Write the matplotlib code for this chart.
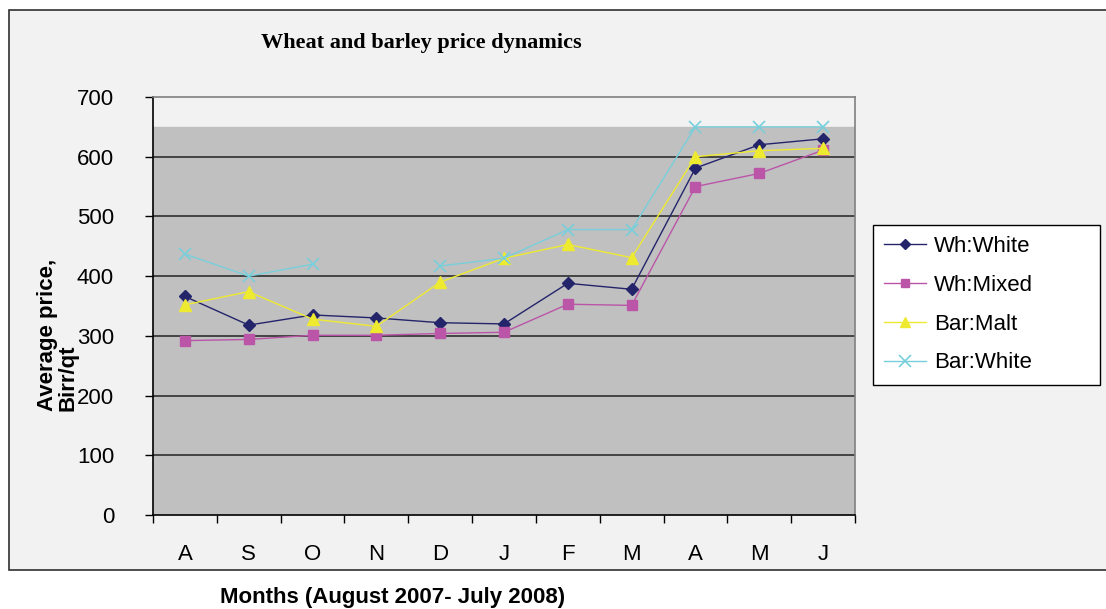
import numpy as np
import matplotlib
matplotlib.use("Agg")
import matplotlib.pyplot as plt
from matplotlib.patches import Rectangle

months = ["A", "S", "O", "N", "D", "J", "F", "M", "A", "M", "J"]
wh_white = [366, 318, 335, 330, 322, 320, 388, 378, 581, 620, 630]
wh_mixed = [292, 294, 301, 301, 304, 306, 353, 351, 550, 572, 611]
bar_malt = [352, 374, 328, 316, 390, 430, 453, 431, 600, 610, 614]
bar_white = [437, 400, 420, np.nan, 417, 430, 478, 478, 650, 650, 650]
yticks = [0, 100, 200, 300, 400, 500, 600, 700]

W, H = 1106, 609
fig = plt.figure(figsize=(W / 100, H / 100), dpi=100)
fig.patch.set_facecolor("white")

# outer chart area box
fig.patches.append(Rectangle((9 / W, 1 - 570 / H), 1.2, (570 - 10) / H,
                             transform=fig.transFigure, facecolor="#f2f2f2",
                             edgecolor="#303030", linewidth=1.2, zorder=-5))

ax = fig.add_axes([153 / W, 1 - 515 / H, (855 - 153) / W, (515 - 97) / H])
ax.set_facecolor("#f2f2f2")
ax.axhspan(0, 650, color="#c0c0c0", zorder=0)

x = np.arange(len(months))
for yv in yticks[1:-1]:
    ax.axhline(yv, color="#3a3a3a", linewidth=1.3, zorder=1)

series = [
    ("Wh:White", wh_white, "#24246b", "D", 6, 1.0),
    ("Wh:Mixed", wh_mixed, "#bb55a8", "s", 7, 1.0),
    ("Bar:Malt", bar_malt, "#eeea30", "^", 8, 1.0),
    ("Bar:White", bar_white, "#78cfdc", "x", 9, 1.2),
]
for name, vals, col, mk, ms, mew in series:
    ax.plot(x, vals, color=col, marker=mk, markersize=ms, markeredgewidth=mew,
            markerfacecolor=col, markeredgecolor=col, linewidth=1.0,
            label=name, zorder=3)

ax.set_xlim(-0.5, len(months) - 0.5)
ax.set_ylim(0, 700)
ax.set_yticks(yticks)
ax.set_yticklabels([str(v) for v in yticks], fontsize=16, family="Liberation Sans")
ax.tick_params(axis="y", direction="out", length=6, width=1, pad=22)

ax.set_xticks(np.arange(-0.5, len(months), 1.0))
ax.set_xticklabels([])
ax.set_xticks(x, minor=True)
ax.set_xticklabels(months, minor=True, fontsize=16, family="Liberation Sans")
ax.tick_params(axis="x", which="major", direction="out", length=6, width=1)
ax.tick_params(axis="x", which="minor", length=0, pad=21)

for s in ["left", "bottom"]:
    ax.spines[s].set_color("black")
    ax.spines[s].set_linewidth(1.2)
for s in ["top", "right"]:
    ax.spines[s].set_color("#808080")
    ax.spines[s].set_linewidth(1.2)

fig.text(421 / W, 1 - 43 / H, "Wheat and barley price dynamics",
         family="Liberation Serif", fontweight="bold", fontsize=16,
         ha="center", va="center")

fig.text(58 / W, 1 - 335 / H, "Average price,\nBirr/qt", rotation=90,
         family="Liberation Sans", fontweight="bold", fontsize=16,
         ha="center", va="center", multialignment="left", linespacing=1.0)

fig.text(393 / W, 1 - 598 / H, "Months (August 2007- July 2008)",
         family="Liberation Sans", fontweight="bold", fontsize=16,
         ha="center", va="center")

leg = ax.legend(loc="upper left",
                bbox_to_anchor=(873 / W, 1 - 383 / H, (1100 - 873) / W, (383 - 225) / H),
                bbox_transform=fig.transFigure, mode="expand", borderaxespad=0,
                prop={"family": "Liberation Sans", "size": 16},
                frameon=True, fancybox=False, framealpha=1, edgecolor="black",
                handlelength=1.9, handletextpad=0.35, labelspacing=0.8,
                borderpad=0.5, markerscale=0.9)
leg.get_frame().set_linewidth(1.0)

fig.savefig("out.png", dpi=100)
